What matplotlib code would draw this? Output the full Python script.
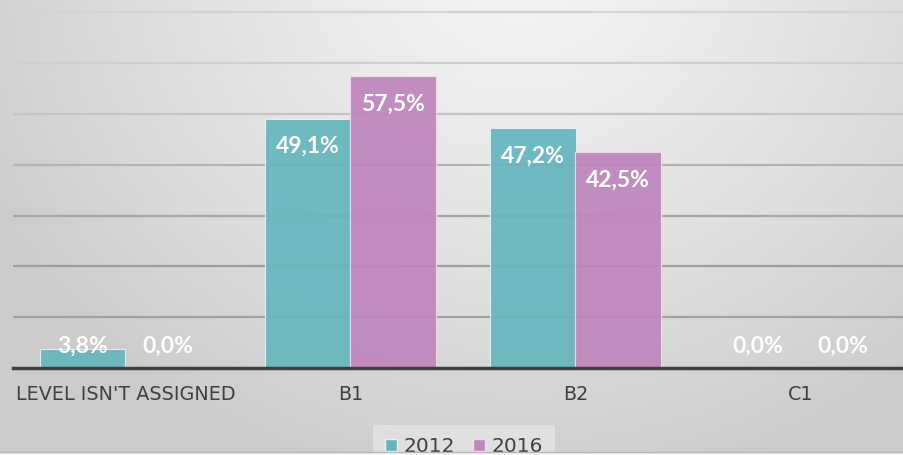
import numpy as np
import matplotlib
matplotlib.use("Agg")
import matplotlib.pyplot as plt
from matplotlib.patches import Patch, Rectangle
from matplotlib.lines import Line2D

categories = ["LEVEL ISN'T ASSIGNED", "B1", "B2", "C1"]
series_names = ["2012", "2016"]
values_2012 = [3.8, 49.1, 47.2, 0.0]
values_2016 = [0.0, 57.5, 42.5, 0.0]
gridline_values = [10, 20, 30, 40, 50, 60, 70]

col_2012 = "#66b7bd"
col_2016 = "#bf86bb"

W, H = 904, 455
fig = plt.figure(figsize=(W / 100, H / 100), dpi=100)
fig.patch.set_facecolor("white")

# background gradient
bg = fig.add_axes([0, 3 / H, 1, 1 - 3 / H])
bg.set_axis_off()
yy, xx = np.mgrid[0:H, 0:W]
d = np.sqrt(((xx - 520) / 600.0) ** 2 + ((yy + 40) / 540.0) ** 2)
d = np.clip(d, 0, 1)
top = np.array([0.955, 0.955, 0.955])
edge = np.array([0.80, 0.80, 0.80])
img = top[None, None, :] * (1 - d[..., None] ** 1.3) + edge[None, None, :] * (d[..., None] ** 1.3)
bg.imshow(img, aspect="auto", extent=[0, 1, 0, 1], origin="upper")
bg.set_xlim(0, 1)
bg.set_ylim(0, 1)

# main axes: x from 13px to 913px, zero line at 368px; 5.08 px per %
px_per = 5.08
y0 = H - 368
ymax = 368 / px_per
ax = fig.add_axes([13 / W, y0 / H, 900 / W, 368 / H])
ax.patch.set_alpha(0)
ax.set_xlim(-0.5, 3.5)
ax.set_ylim(0, ymax)

grid_cols = ["#a2a2a2", "#9e9e9e", "#a6a6a6", "#b3b3b3", "#c4c4c4", "#cfcfcf", "#d4d4d4"]
for g, c in zip(gridline_values, grid_cols):
    ax.axhline(g, color=c, lw=1.6, zorder=1)

x = np.arange(len(categories))
bw = 0.378
ax.bar(x - bw / 2, values_2012, bw, color=col_2012, alpha=0.93,
       edgecolor="#e6f2f3", linewidth=0.8, zorder=2)
ax.bar(x + bw / 2, values_2016, bw, color=col_2016, alpha=0.93,
       edgecolor="#f0dcef", linewidth=0.8, zorder=2)

ax.axhline(0, color="#404040", lw=2.5, zorder=3, clip_on=False)

for xs, vals in ((x - bw / 2, values_2012), (x + bw / 2, values_2016)):
    for xi, v in zip(xs, vals):
        ly = max(v - 28 / px_per, 22 / px_per)
        ax.text(xi, ly, f"{v:.1f}%".replace(".", ","), ha="center", va="center",
                color="white", fontsize=16.5, fontweight="bold", family="Lato", zorder=4)

for s in ax.spines.values():
    s.set_visible(False)
ax.set_yticks([])
ax.set_xticks(x)
ax.set_xticklabels(categories, fontsize=13.8, color="#404040", family="DejaVu Sans")
ax.tick_params(axis="x", length=0, pad=12)

handles = [Patch(facecolor=col_2012, edgecolor="#e6f2f3", label=series_names[0]),
           Patch(facecolor=col_2016, edgecolor="#f0dcef", label=series_names[1])]
leg = fig.legend(handles=handles, loc="upper center", bbox_to_anchor=(464 / W, 1 - 425 / H),
                 ncol=2, frameon=True, fancybox=False,
                 prop={"family": "DejaVu Sans", "size": 14.5}, handlelength=0.6, handleheight=0.6,
                 handletextpad=0.3, columnspacing=0.9, borderpad=0.6, borderaxespad=0)
leg.get_frame().set_facecolor("#e4e4e4")
leg.get_frame().set_edgecolor("none")
for t in leg.get_texts():
    t.set_color("#404040")

# bottom strip covering the cut-off part
fig.add_artist(Rectangle((0, 0), 1, 3.5 / H, transform=fig.transFigure,
                         facecolor="#f4f4f4", edgecolor="none", zorder=10))
fig.add_artist(Line2D([0, 1], [3.5 / H, 3.5 / H], color="#b8b8b8", lw=1.0, zorder=11))

fig.savefig("out.png", dpi=100)
